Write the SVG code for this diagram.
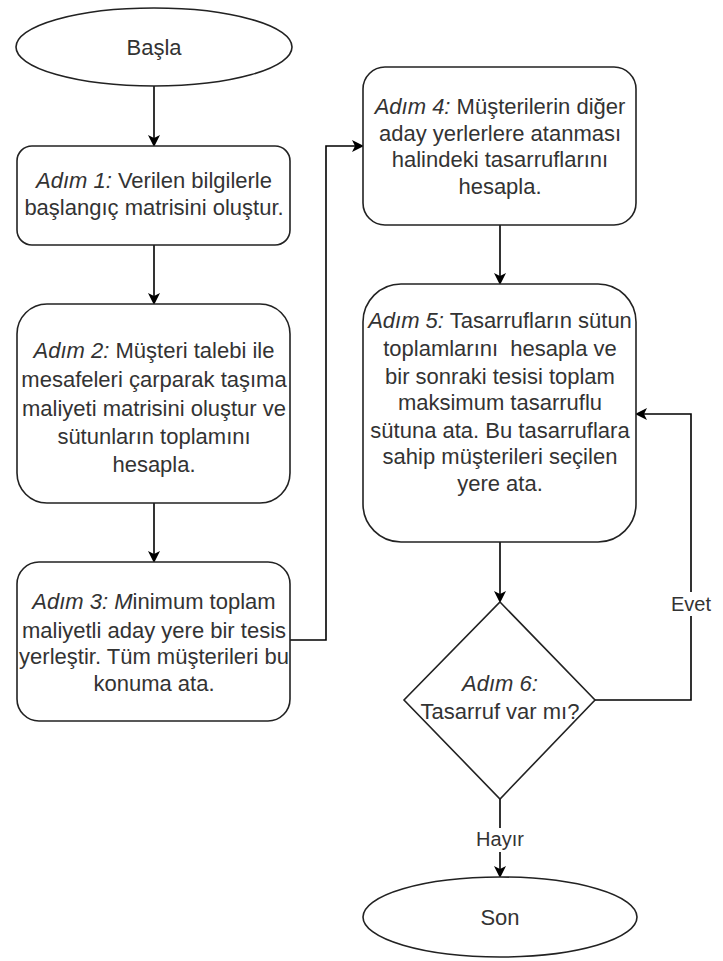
<svg xmlns="http://www.w3.org/2000/svg" width="723" height="961" viewBox="0 0 723 961">
<defs>
<marker id="ah" markerWidth="12" markerHeight="12" refX="10" refY="6" orient="auto" markerUnits="userSpaceOnUse">
<path d="M0,0 L12,6 L0,12 L3,6 Z" fill="#000"/>
</marker>
<style>
.sh{fill:#fff;stroke:#222;stroke-width:1.6}
.t{font-family:"Liberation Sans",Arial,sans-serif;font-size:22px;fill:#333;text-anchor:middle}
.i{font-style:italic}
.c{fill:none;stroke:#000;stroke-width:1.6}
.lbl{font-family:"Liberation Sans",Arial,sans-serif;font-size:20px;fill:#333;text-anchor:middle}
</style>
</defs>
<rect width="723" height="961" fill="#fff"/>
<g id="connectors">
<line class="c" x1="154" y1="86" x2="154" y2="145" marker-end="url(#ah)"/>
<line class="c" x1="154" y1="245" x2="154" y2="303" marker-end="url(#ah)"/>
<line class="c" x1="154" y1="503" x2="154" y2="561" marker-end="url(#ah)"/>
<polyline class="c" points="290,640 326,640 326,146 362,146" marker-end="url(#ah)"/>
<line class="c" x1="500" y1="225" x2="500" y2="283" marker-end="url(#ah)"/>
<line class="c" x1="500" y1="542" x2="500" y2="601" marker-end="url(#ah)"/>
<polyline class="c" points="595,700 691,700 691,414 637,414" marker-end="url(#ah)"/>
<line class="c" x1="500" y1="799" x2="500" y2="876" marker-end="url(#ah)"/>
<rect x="670" y="592" width="42" height="24" fill="#fff"/>
<text class="lbl" x="691" y="611">Evet</text>
<rect x="474" y="828" width="52" height="24" fill="#fff"/>
<text class="lbl" x="500" y="846">Hayır</text>
</g>
<g id="start">
<ellipse class="sh" cx="154" cy="47" rx="138" ry="39"/>
<text class="t" x="154" y="55">Başla</text>
</g>
<g id="step1">
<rect class="sh" x="17" y="146" width="273" height="99" rx="15"/>
<text class="t" x="154" y="188"><tspan class="i">Adım 1:</tspan> Verilen bilgilerle</text>
<text class="t" x="154" y="215">başlangıç matrisini oluştur.</text>
</g>
<g id="step2">
<rect class="sh" x="17" y="304" width="273" height="199" rx="30"/>
<text class="t" x="154" y="358"><tspan class="i">Adım 2:</tspan> Müşteri talebi ile</text>
<text class="t" x="154" y="387">mesafeleri çarparak taşıma</text>
<text class="t" x="154" y="416">maliyeti matrisini oluştur ve</text>
<text class="t" x="154" y="444">sütunların toplamını</text>
<text class="t" x="154" y="472">hesapla.</text>
</g>
<g id="step3">
<rect class="sh" x="17" y="562" width="273" height="159" rx="22"/>
<text class="t" x="154" y="609"><tspan class="i">Adım 3: M</tspan>inimum toplam</text>
<text class="t" x="154" y="638">maliyetli aday yere bir tesis</text>
<text class="t" x="154" y="664">yerleştir. Tüm müşterileri bu</text>
<text class="t" x="154" y="691">konuma ata.</text>
</g>
<g id="step4">
<rect class="sh" x="363" y="67" width="273" height="158" rx="22"/>
<text class="t" x="500" y="114"><tspan class="i">Adım 4:</tspan> Müşterilerin diğer</text>
<text class="t" x="500" y="141">aday yerlerlere atanması</text>
<text class="t" x="500" y="167">halindeki tasarruflarını</text>
<text class="t" x="500" y="194">hesapla.</text>
</g>
<g id="step5">
<rect class="sh" x="363" y="284" width="273" height="258" rx="38"/>
<text class="t" x="500" y="328"><tspan class="i">Adım 5:</tspan> Tasarrufların sütun</text>
<text class="t" x="500" y="356" xml:space="preserve">toplamlarını  hesapla ve</text>
<text class="t" x="500" y="384">bir sonraki tesisi toplam</text>
<text class="t" x="500" y="410">maksimum tasarruflu</text>
<text class="t" x="500" y="438">sütuna ata. Bu tasarruflara</text>
<text class="t" x="500" y="464">sahip müşterileri seçilen</text>
<text class="t" x="500" y="491">yere ata.</text>
</g>
<g id="step6">
<polygon class="sh" points="500,602 595,700 500,799 404,700"/>
<text class="t i" x="500" y="691">Adım 6:</text>
<text class="t" x="500" y="719">Tasarruf var mı?</text>
</g>
<g id="end">
<ellipse class="sh" cx="500" cy="917" rx="137" ry="40"/>
<text class="t" x="500" y="925">Son</text>
</g>
</svg>
